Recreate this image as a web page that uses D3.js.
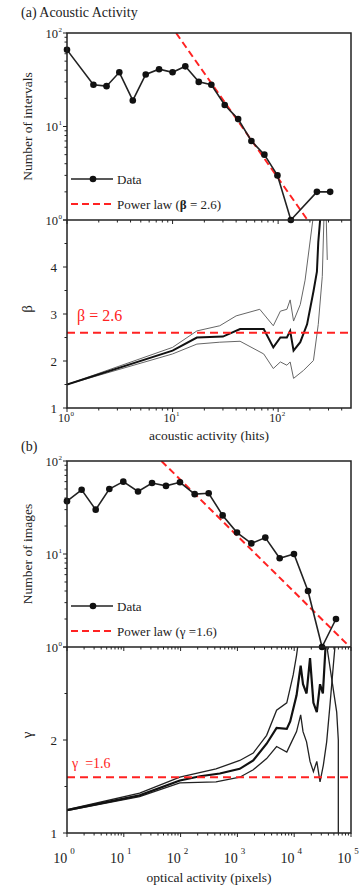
<!DOCTYPE html>
<html>
<head>
<meta charset="utf-8">
<script src="https://cdn.jsdelivr.net/npm/d3@7"></script>
<style>
  body { margin: 0; background: #fff; }
  svg, text, tspan { font-family: "Liberation Serif", "DejaVu Serif", serif; }
  text { fill: #222; }
</style>
</head>
<body>
<div id="chart"></div>
<script>
// (a) acoustic activity: log-binned histogram + beta estimate
const acousticBins = [1, 1.78, 2.37, 3.13, 4.2, 5.57, 7.45, 10, 13.2, 17.7, 23.3, 31.2, 41.8, 55.8, 74.1, 98.5, 132, 233, 311];
const acousticCounts = [66, 28, 27, 38, 19, 36, 41, 38, 44, 30, 28, 17, 12, 7, 5, 3, 1, 2, 2];
const acousticFit = [[10.8, 100], [190, 1]];
const betaMid = [[1, 1.5], [10, 2.22], [17, 2.5], [30, 2.52], [43.6, 2.68], [73, 2.68], [90, 2.29], [105, 2.5], [121, 2.5], [130, 2.64], [140, 2.22], [162, 2.4], [188, 2.78], [216, 3.48], [233, 3.9], [240, 4.53], [252, 5.1]];
const betaUpper = [[1, 1.5], [10, 2.29], [17, 2.64], [28, 2.75], [40, 2.96], [67, 3.1], [90, 2.75], [105, 3.06], [121, 3.1], [130, 3.3], [140, 2.85], [162, 3.2], [180, 3.72], [216, 5.1]];
const betaLower = [[1, 1.5], [10, 2.15], [17, 2.36], [28, 2.4], [43.6, 2.42], [73, 2.15], [90, 1.84], [105, 1.98], [121, 1.91], [130, 1.98], [140, 1.63], [174, 1.8], [216, 2.01], [240, 2.78], [262, 3.8], [272, 5.1]];
const betaStray = [[285, 5.1], [292, 4.15]];
const betaRef = 2.6;

// (b) optical activity: log-binned histogram + gamma estimate
const opticalBins = [1, 1.81, 3.2, 5.56, 9.8, 17.8, 31.4, 55.3, 97.5, 177, 312, 550, 984, 1760, 3100, 5550, 9900, 17500, 30900, 54400];
const opticalCounts = [37, 49, 30, 50, 60, 47, 58, 54, 59, 44, 45, 26, 17, 13, 15, 9, 10, 4, 1, 2];
const opticalFit = [[46, 100], [96000, 1]];
const gammaMid = [[1, 1.245], [19, 1.405], [97, 1.565], [220, 1.61], [490, 1.64], [1100, 1.69], [1900, 1.78], [3270, 1.96], [4900, 2.13], [7400, 2.12], [8500, 2.2], [11000, 2.48], [13000, 2.8], [14300, 2.6], [16500, 2.5], [19000, 2.88], [21800, 2.4], [25000, 2.3], [28500, 2.6], [32000, 2.5], [36000, 3.05]];
const gammaUpper = [[1, 1.25], [19, 1.43], [97, 1.6], [420, 1.69], [1100, 1.78], [1900, 1.86], [3270, 2.05], [4900, 2.32], [7400, 2.4], [9600, 2.7], [11000, 2.91], [11800, 3.05]];
const gammaLower = [[1, 1.24], [19, 1.39], [97, 1.54], [420, 1.55], [1100, 1.6], [1900, 1.68], [3270, 1.8], [4900, 1.93], [7400, 1.87], [9000, 1.98], [11000, 2.09], [13000, 2.27], [14300, 2.09], [16500, 1.98], [19000, 1.77], [21800, 1.66], [25000, 1.77], [28500, 1.55], [32600, 1.73], [37300, 1.98], [42700, 2.38], [48800, 2.8], [53000, 3.05]];
const gammaTail = [[37300, 3.02], [56000, 2.3], [59800, 2.0], [59800, 1]];
const gammaRef = 1.6;

const width = 364, height = 887;
const left = 67, right = 351;
const red = "#ff2222";
const serif = "Liberation Serif, DejaVu Serif, serif";

const svg = d3.select("#chart").append("svg")
    .attr("width", width)
    .attr("height", height)
    .attr("viewBox", [0, 0, width, height])
    .attr("font-family", serif)
    .style("display", "block");

// decade + 2..9 minor positions inside the domain
function logTicks(domain) {
    const out = [];
    const lo = Math.floor(Math.log10(domain[0])), hi = Math.ceil(Math.log10(domain[1]));
    for (let e = lo; e <= hi; e++) {
        for (let k = 1; k < 10; k++) {
            const v = k * Math.pow(10, e);
            if (v >= domain[0] * 0.999 && v <= domain[1] * 1.001) out.push({ v, major: k === 1, e });
        }
    }
    return out;
}

function powerLabel(sel, e, big) {
    sel.append("tspan").text("10");
    if (big) {
        sel.append("tspan").attr("dx", 3).attr("dy", -9).attr("font-size", 9).text(e);
    } else {
        sel.append("tspan").attr("dx", 0.5).attr("dy", -6).attr("font-size", 7).text(e);
    }
}

function drawFigure(o) {
    const g = svg.append("g");
    const x = d3.scaleLog().domain(o.xDomain).range([left, right]);
    const yTop = d3.scaleLog().domain([1, 100]).range([o.y1, o.y0]);
    const yBot = d3.scaleLinear().domain(o.expDomain).range([o.y2, o.y1]);

    // clipping for the two panels
    const defs = g.append("defs");
    defs.append("clipPath").attr("id", o.id + "-top")
        .append("rect").attr("x", left).attr("y", o.y0).attr("width", right - left).attr("height", o.y1 - o.y0);
    defs.append("clipPath").attr("id", o.id + "-bot")
        .append("rect").attr("x", left).attr("y", o.y1).attr("width", right - left).attr("height", o.y2 - o.y1);

    const xt = logTicks(o.xDomain);

    // x ticks under each panel (pointing down)
    [o.y1, o.y2].forEach(yy => {
        g.append("g").selectAll("line").data(xt).join("line")
            .attr("x1", d => x(d.v)).attr("x2", d => x(d.v))
            .attr("y1", yy).attr("y2", d => yy + (d.major ? 4 : 2.5))
            .attr("stroke", "#222").attr("stroke-width", 1);
    });

    // x tick labels
    g.append("g").selectAll("text").data(xt.filter(d => d.major)).join("text")
        .attr("x", d => x(d.v) + (o.bigSup ? -3 : -1))
        .attr("y", o.xTickY)
        .attr("text-anchor", "middle")
        .attr("font-size", o.bigSup ? 14 : 12)
        .each(function(d) { powerLabel(d3.select(this), d.e, o.bigSup); });

    g.append("text")
        .attr("x", (left + right) / 2).attr("y", o.xLabelY)
        .attr("text-anchor", "middle").attr("font-size", 13.5)
        .text(o.xLabel);

    // left axis of the count panel
    const yt = logTicks([1, 100]);
    g.append("g").selectAll("line").data(yt).join("line")
        .attr("x1", left).attr("x2", d => left - (d.major ? 4 : 2.5))
        .attr("y1", d => yTop(d.v)).attr("y2", d => yTop(d.v))
        .attr("stroke", "#222");
    g.append("g").selectAll("text").data(yt.filter(d => d.major)).join("text")
        .attr("x", 62).attr("y", d => yTop(d.v) + 4.5)
        .attr("text-anchor", "end").attr("font-size", 12.5)
        .each(function(d) { powerLabel(d3.select(this), d.e, false); });

    // left axis of the exponent panel
    const et = d3.range(o.expDomain[0], o.expDomain[1] + 0.01, 0.5);
    g.append("g").selectAll("line").data(et).join("line")
        .attr("x1", left).attr("x2", d => left - (d % 1 === 0 ? 4 : 2.5))
        .attr("y1", d => yBot(d)).attr("y2", d => yBot(d))
        .attr("stroke", "#222");
    g.append("g").selectAll("text").data(et.filter(d => d % 1 === 0 && d < o.expDomain[1])).join("text")
        .attr("x", 57).attr("y", d => yBot(d) + 4.5)
        .attr("text-anchor", "end").attr("font-size", 13)
        .text(d => d);

    // y axis titles
    g.append("text")
        .attr("transform", `translate(32, ${(o.y0 + o.y1) / 2}) rotate(-90)`)
        .attr("text-anchor", "middle").attr("font-size", 13.5)
        .text(o.yLabel);
    g.append("text")
        .attr("transform", `translate(32, ${(o.y1 + o.y2) / 2 - 5}) rotate(-90)`)
        .attr("text-anchor", "middle").attr("font-size", 15)
        .text(o.expSymbol);

    // power law fit
    g.append("path")
        .datum(o.fit)
        .attr("clip-path", `url(#${o.id}-top)`)
        .attr("d", d3.line().x(d => x(d[0])).y(d => yTop(d[1])))
        .attr("fill", "none").attr("stroke", red).attr("stroke-width", 2)
        .attr("stroke-dasharray", "7,4");

    // histogram data
    const pts = o.bins.map((b, i) => [b, o.counts[i]]);
    g.append("path")
        .datum(pts)
        .attr("d", d3.line().x(d => x(d[0])).y(d => yTop(d[1])))
        .attr("fill", "none").attr("stroke", "#222").attr("stroke-width", 1.6);
    g.append("g").selectAll("circle").data(pts).join("circle")
        .attr("cx", d => x(d[0])).attr("cy", d => yTop(d[1]))
        .attr("r", 3.3).attr("fill", "#111");

    // exponent estimate with bounds
    const eLine = d3.line().x(d => x(d[0])).y(d => yBot(d[1]));
    const curves = g.append("g").attr("clip-path", `url(#${o.id}-bot)`);
    o.bounds.forEach(b => {
        curves.append("path").datum(b)
            .attr("d", eLine).attr("fill", "none")
            .attr("stroke", o.boundColor).attr("stroke-width", o.boundWidth);
    });
    curves.append("path").datum(o.mid)
        .attr("d", eLine).attr("fill", "none")
        .attr("stroke", "#111").attr("stroke-width", o.midWidth);

    curves.append("line")
        .attr("x1", left).attr("x2", right)
        .attr("y1", yBot(o.ref)).attr("y2", yBot(o.ref))
        .attr("stroke", red).attr("stroke-width", 2).attr("stroke-dasharray", "8,5");

    g.append("text")
        .attr("x", o.refLabelX).attr("y", yBot(o.ref) - o.refLabelDy)
        .attr("font-size", o.refLabelSize)
        .style("fill", red).style("white-space", "pre")
        .text(o.refLabel);

    // legend
    const lg = g.append("g");
    lg.append("line").attr("x1", 71).attr("x2", 113).attr("y1", o.legendY).attr("y2", o.legendY)
        .attr("stroke", "#222").attr("stroke-width", 1.6);
    lg.append("circle").attr("cx", 93).attr("cy", o.legendY).attr("r", 3.3).attr("fill", "#111");
    lg.append("text").attr("x", 117).attr("y", o.legendY + 5).attr("font-size", 13).text("Data");
    lg.append("line").attr("x1", 71).attr("x2", 113).attr("y1", o.legendY + 25).attr("y2", o.legendY + 25)
        .attr("stroke", red).attr("stroke-width", 2).attr("stroke-dasharray", "7,4");
    const pl = lg.append("text").attr("x", 117).attr("y", o.legendY + 30).attr("font-size", 13)
        .style("white-space", "pre");
    pl.append("tspan").text("Power law (");
    pl.append("tspan").attr("font-weight", o.boldSymbol ? "bold" : null).text(o.expSymbol);
    pl.append("tspan").text(o.legendTail);

    // frames
    g.append("rect")
        .attr("x", left).attr("y", o.y0).attr("width", right - left).attr("height", o.y2 - o.y0)
        .attr("fill", "none").attr("stroke", "#222").attr("stroke-width", 1.5);
    g.append("line").attr("x1", left).attr("x2", right).attr("y1", o.y1).attr("y2", o.y1)
        .attr("stroke", "#222").attr("stroke-width", 1.5);

    g.append("text").attr("x", 21).attr("y", o.titleY).attr("font-size", 14).text(o.title);
}

drawFigure({
    id: "a", title: "(a) Acoustic Activity", titleY: 17,
    xDomain: [1, 490], y0: 33, y1: 220, y2: 408,
    expDomain: [1, 5], xTickY: 422, xLabelY: 440, bigSup: false,
    xLabel: "acoustic activity (hits)", yLabel: "Number of intervals", expSymbol: "β",
    bins: acousticBins, counts: acousticCounts, fit: acousticFit,
    mid: betaMid, bounds: [betaUpper, betaLower, betaStray], boundColor: "#666", boundWidth: 1, midWidth: 2,
    ref: betaRef, refLabel: "β = 2.6", refLabelX: 77, refLabelDy: 12, refLabelSize: 16,
    legendY: 179, boldSymbol: true, legendTail: " = 2.6)"
});

drawFigure({
    id: "b", title: "(b)", titleY: 451,
    xDomain: [1, 1e5], y0: 461, y1: 647, y2: 833,
    expDomain: [1, 3], xTickY: 863, xLabelY: 882, bigSup: true,
    xLabel: "optical activity (pixels)", yLabel: "Number of images", expSymbol: "γ",
    bins: opticalBins, counts: opticalCounts, fit: opticalFit,
    mid: gammaMid, bounds: [gammaUpper, gammaLower, gammaTail], boundColor: "#222", boundWidth: 1.3, midWidth: 2.2,
    ref: gammaRef, refLabel: "γ  =1.6", refLabelX: 72, refLabelDy: 9, refLabelSize: 14,
    legendY: 606, boldSymbol: false, legendTail: " =1.6)"
});
</script>
</body>
</html>
